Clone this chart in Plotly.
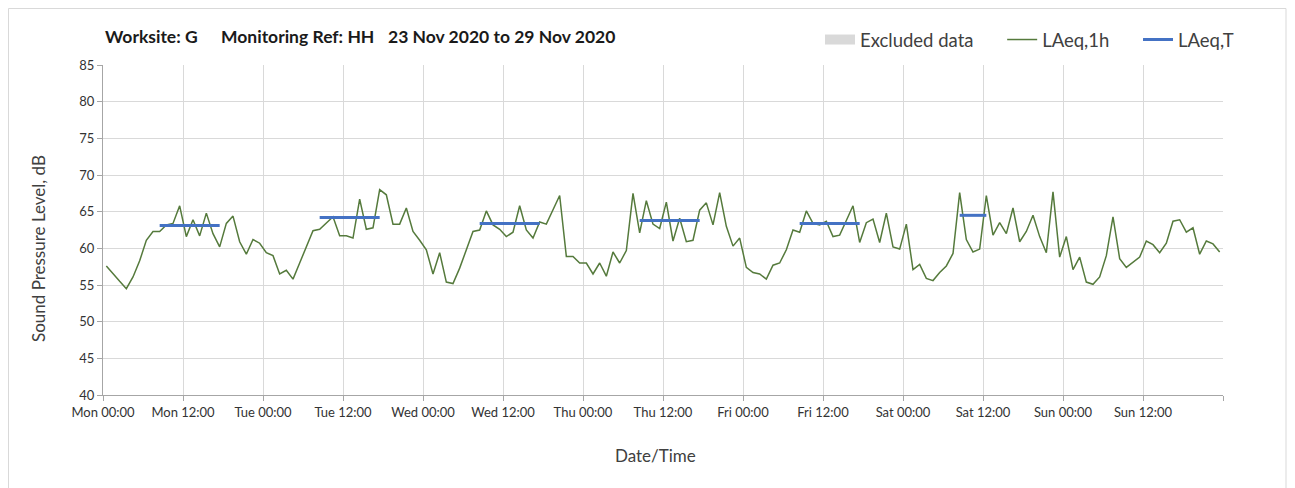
import pandas as pd
import plotly.graph_objects as go

# hourly LAeq,1h readings, Mon 23 Nov 2020 00:00 -> Sun 29 Nov 2020 23:00
laeq_1h = [
    57.6, 56.5, 55.5, 54.5, 56.1, 58.3, 61.1, 62.3, 62.3, 63.2, 63.4, 65.8,
    61.6, 63.9, 61.7, 64.8, 62.0, 60.2, 63.4, 64.4, 60.9, 59.2, 61.2, 60.7,
    59.4, 59.0, 56.5, 57.0, 55.8, 58.0, 60.2, 62.4, 62.6, 63.4, 64.3, 61.7,
    61.7, 61.4, 66.7, 62.6, 62.8, 68.0, 67.3, 63.3, 63.3, 65.5, 62.3, 61.1,
    59.8, 56.5, 59.4, 55.4, 55.2, 57.3, 59.8, 62.3, 62.5, 65.1, 63.2, 62.6,
    61.6, 62.2, 65.8, 62.5, 61.4, 63.6, 63.3, 65.2, 67.2, 58.9, 58.9, 58.0,
    58.0, 56.5, 58.0, 56.2, 59.5, 58.0, 59.7, 67.5, 62.1, 66.5, 63.3, 62.7,
    66.3, 61.0, 64.1, 60.9, 61.1, 65.2, 66.2, 63.2, 67.6, 63.0, 60.3, 61.4,
    57.4, 56.7, 56.5, 55.8, 57.7, 58.0, 59.8, 62.5, 62.2, 65.1, 63.4, 63.2,
    63.7, 61.6, 61.8, 63.8, 65.8, 60.8, 63.5, 64.0, 60.8, 64.8, 60.2, 59.9,
    63.3, 57.1, 57.8, 55.9, 55.6, 56.7, 57.6, 59.3, 67.6, 61.2, 59.5, 59.9,
    67.2, 61.8, 63.5, 62.0, 65.5, 60.9, 62.3, 64.5, 61.6, 59.4, 67.7, 58.8,
    61.6, 57.1, 58.8, 55.4, 55.1, 56.1, 59.0, 64.3, 58.6, 57.4, 58.1, 58.8,
    61.0, 60.5, 59.4, 60.7, 63.7, 63.9, 62.2, 62.8, 59.2, 61.0, 60.6, 59.5,
]
times = pd.date_range("2020-11-23 00:30", periods=len(laeq_1h), freq="h")

# LAeq,T for each daytime period
period_start = ["2020-11-23 08:30", "2020-11-24 08:30", "2020-11-25 08:30",
                "2020-11-26 08:30", "2020-11-27 08:30", "2020-11-28 08:30"]
period_end = ["2020-11-23 17:30", "2020-11-24 17:30", "2020-11-25 17:30",
              "2020-11-26 17:30", "2020-11-27 17:30", "2020-11-28 12:30"]
laeq_t = [63.1, 64.2, 63.4, 63.8, 63.4, 64.5]

tick_vals = pd.date_range("2020-11-23 00:00", periods=15, freq="12h")
tick_text = ["Mon 00:00", "Mon 12:00", "Tue 00:00", "Tue 12:00", "Wed 00:00",
             "Wed 12:00", "Thu 00:00", "Thu 12:00", "Fri 00:00", "Fri 12:00",
             "Sat 00:00", "Sat 12:00", "Sun 00:00", "Sun 12:00", ""]

title_parts = ["Worksite: G", "Monitoring Ref: HH", "23 Nov 2020 to 29 Nov 2020"]

bx, by = [], []
for s, e, v in zip(period_start, period_end, laeq_t):
    bx += [s, e, None]
    by += [v, v, None]

FONT = "Lato, 'Open Sans', sans-serif"
GRID = "#d9d9d9"
AXIS = "#a6a6a6"

# page body has an 8px margin, so the figure is 8px smaller than the window
W, H = 1287, 480
L, T = 95, 57
pw, ph = 1120, 330
R, B = W - L - pw, H - T - ph


def px(xw):  # window pixel -> paper x
    return (xw - 103) / pw


def py(yw):  # window pixel -> paper y
    return (395 - yw) / ph


gap = "\u00a0" * 5
fig = go.Figure()
fig.add_trace(go.Scatter(x=[None], y=[None], name="Excluded data" + gap,
                         mode="lines", line=dict(color="#d9d9d9", width=10)))
fig.add_trace(go.Scatter(x=times, y=laeq_1h, name="LAeq,1h" + gap, mode="lines",
                         line=dict(color="#557a3c", width=1.5)))
fig.add_trace(go.Scatter(x=bx, y=by, name="LAeq,T", mode="lines",
                         line=dict(color="#4472c4", width=3)))

title_x = [103, 219, 386]
annotations = [dict(text="<b>%s</b>" % t, x=px(x), y=py(37), xref="paper", yref="paper",
                    xanchor="left", yanchor="middle", showarrow=False,
                    font=dict(size=17.5, color="#1a1a1a"))
               for t, x in zip(title_parts, title_x)]
# axis titles placed where the original chart has them
annotations.append(dict(text="Date/Time", x=px(655), y=py(455), xref="paper", yref="paper",
                        xanchor="center", yanchor="middle", showarrow=False,
                        font=dict(size=17, color="#404040")))
annotations.append(dict(text="Sound Pressure Level, dB", x=px(38), y=py(249), xref="paper",
                        yref="paper", xanchor="center", yanchor="middle", showarrow=False,
                        textangle=-90, font=dict(size=17, color="#404040")))

fig.update_layout(
    width=W, height=H,
    margin=dict(l=L, r=R, t=T, b=B, autoexpand=False),
    paper_bgcolor="white", plot_bgcolor="white",
    font=dict(family=FONT, size=13, color="#404040"),
    showlegend=True,
    legend=dict(orientation="h", x=px(820), xanchor="left", y=py(40), yanchor="middle",
                font=dict(size=18.5, color="#404040"), bgcolor="rgba(0,0,0,0)",
                traceorder="normal"),
    annotations=annotations,
    xaxis=dict(type="date", range=[tick_vals[0], tick_vals[-1]],
               tickvals=tick_vals, ticktext=tick_text,
               showgrid=True, gridcolor=GRID, gridwidth=1,
               showline=True, linecolor=AXIS, linewidth=1,
               ticks="outside", ticklen=5, tickcolor=AXIS,
               tickfont=dict(size=13, color="#333333")),
    yaxis=dict(range=[40, 85], dtick=5, tick0=40,
               showgrid=True, gridcolor=GRID, gridwidth=1,
               showline=True, linecolor=AXIS, linewidth=1,
               ticks="outside", ticklen=5, tickcolor=AXIS,
               tickfont=dict(size=13, color="#333333"),
               zeroline=False),
    shapes=[dict(type="rect", xref="paper", yref="paper",
                 x0=px(8.5), x1=px(1286), y0=py(500), y1=py(8.5),
                 line=dict(color="#d9d9d9", width=1), fillcolor="rgba(0,0,0,0)", layer="below")],
)

fig.write_html("out.html")
